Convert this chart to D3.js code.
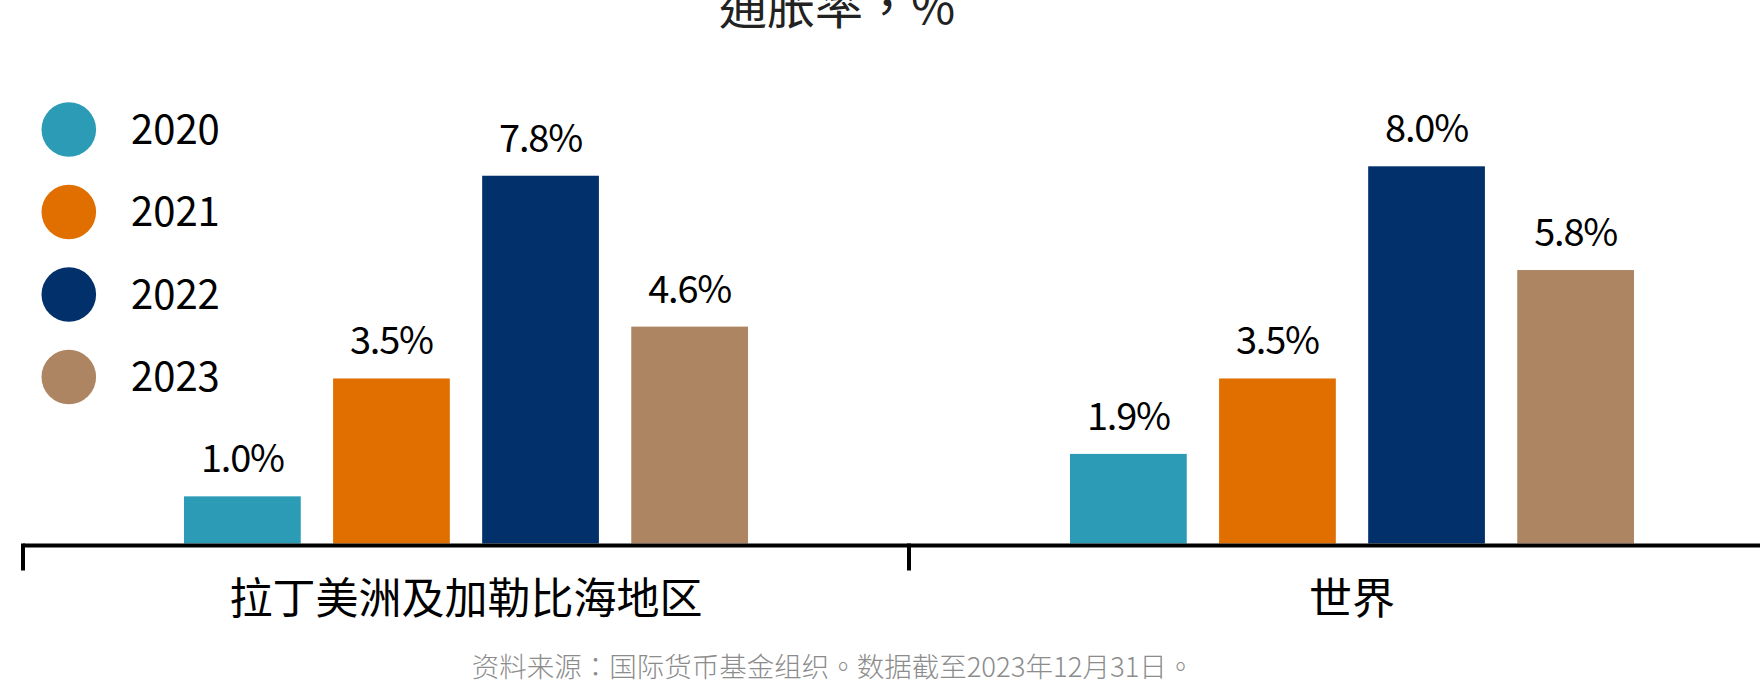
<!DOCTYPE html>
<html>
<head>
<meta charset="utf-8">
<script src="https://cdn.jsdelivr.net/npm/d3@7"></script>
<style>
  html, body { margin: 0; padding: 0; background: #fff; }
  svg { display: block; }
  text { font-family: "Noto Sans CJK SC", "Noto Sans", sans-serif; }
  text.tc { font-family: "Noto Sans CJK TC", "Noto Sans CJK SC", sans-serif; }
</style>
</head>
<body>
<svg id="chart" width="1760" height="680"></svg>
<script>
const title = "通胀率，%";
const source = "资料来源：国际货币基金组织。数据截至2023年12月31日。";
const categories = ["拉丁美洲及加勒比海地区", "世界"];
const years = ["2020", "2021", "2022", "2023"];
const lacValues = [1.0, 3.5, 7.8, 4.6];
const worldValues = [1.9, 3.5, 8.0, 5.8];
const colors = ["#2B9BB6", "#E16F00", "#01306A", "#AE8563"];

const seriesByCategory = [lacValues, worldValues];
const data = categories.map((c, ci) => ({
  category: c,
  values: years.map((yr, yi) => ({ year: yr, value: seriesByCategory[ci][yi] }))
}));

const svg = d3.select("#chart");
const baseline = 543.5;

const x0 = d3.scaleBand().domain(categories).range([23, 1795]);
const x1 = d3.scaleBand().domain(years).range([0, x0.bandwidth()])
  .paddingInner(0.217).paddingOuter(1.08);
const y = d3.scaleLinear().domain([0, 10]).range([baseline, baseline - 471.5]);
const color = d3.scaleOrdinal().domain(years).range(colors);

// Title
svg.append("text")
  .attr("class", "tc")
  .attr("x", 837).attr("y", 24)
  .attr("text-anchor", "middle")
  .attr("font-size", 48)
  .attr("fill", "#222")
  .text(title);

// Bars
const groups = svg.selectAll("g.cat").data(data).join("g")
  .attr("class", "cat")
  .attr("transform", d => `translate(${x0(d.category)},0)`);

groups.selectAll("rect").data(d => d.values).join("rect")
  .attr("x", d => x1(d.year))
  .attr("width", x1.bandwidth())
  .attr("y", d => y(d.value))
  .attr("height", d => baseline - y(d.value))
  .attr("fill", d => color(d.year));

groups.selectAll("text.val").data(d => d.values).join("text")
  .attr("class", "val")
  .attr("x", d => x1(d.year) + x1.bandwidth() / 2)
  .attr("y", d => y(d.value) - 24)
  .attr("text-anchor", "middle")
  .attr("font-size", 38)
  .attr("letter-spacing", -1.2)
  .attr("fill", "#000")
  .text(d => d.value.toFixed(1) + "%");

// Axis
const axisG = svg.append("g").attr("transform", `translate(0,${545.5})`);
axisG.call(d3.axisBottom(x0).tickSize(0).tickPadding(0).tickFormat(() => ""));
axisG.select(".domain").attr("d", `M23,0H1795`).attr("stroke", "#000").attr("stroke-width", 4);
axisG.selectAll(".tick").remove();
categories.forEach(c => {
  axisG.append("line")
    .attr("x1", x0(c)).attr("x2", x0(c))
    .attr("y1", -2).attr("y2", 25)
    .attr("stroke", "#000").attr("stroke-width", 4);
});
svg.selectAll("text.cat").data(categories).join("text")
  .attr("class", "cat")
  .attr("x", d => x0(d) + x0.bandwidth() / 2)
  .attr("y", 614)
  .attr("text-anchor", "middle")
  .attr("font-size", 43)
  .attr("fill", "#000")
  .text(d => d);

// Legend
const legend = svg.append("g");
years.forEach((yr, i) => {
  const cy = 129.5 + i * 82.5;
  legend.append("circle").attr("cx", 68.8).attr("cy", cy).attr("r", 27.3).attr("fill", color(yr));
  legend.append("text").attr("x", 131).attr("y", cy + 14)
    .attr("font-size", 40).attr("fill", "#000").text(yr);
});

// Source
svg.append("text")
  .attr("class", "tc")
  .attr("x", 833).attr("y", 677)
  .attr("text-anchor", "middle")
  .attr("font-size", 27.5)
  .attr("font-weight", 300)
  .attr("fill", "#8c8c8c")
  .text(source);
</script>
</body>
</html>
